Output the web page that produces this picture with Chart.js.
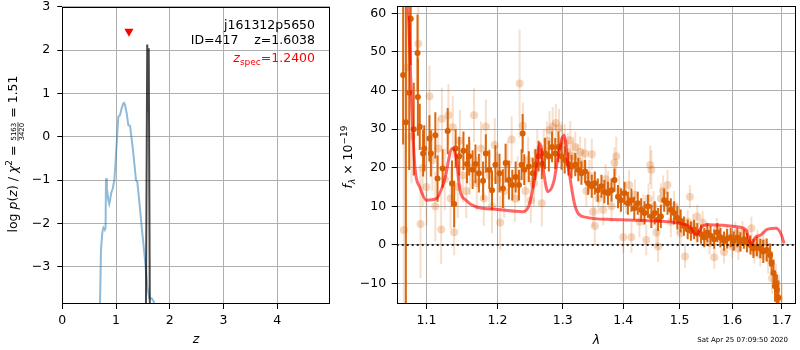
<!DOCTYPE html>
<html>
<head>
<meta charset="utf-8">
<script src="https://cdn.jsdelivr.net/npm/chart.js@4.4.0/dist/chart.umd.min.js"></script>
<style>
  body { margin: 0; background: #fff; }
  #wrap { position: relative; width: 800px; height: 350px; }
  canvas { position: absolute; left: 0; top: 0; }
</style>
</head>
<body>
<div id="wrap">
  <canvas id="pz" width="800" height="350"></canvas>
  <canvas id="spec" width="800" height="350"></canvas>
</div>
<script>
// ---- left panel: log p(z) ----
const pzXTicks = [0, 1, 2, 3, 4];
const pzYTicks = [-3, -2, -1, 0, 1, 2, 3];
const pzBlueZ = [0.700, 0.720, 0.745, 0.765, 0.790, 0.805, 0.813, 0.830, 0.855, 0.873, 0.890, 0.910, 0.937, 0.968, 0.985, 1.042, 1.074, 1.105, 1.135, 1.150, 1.167, 1.198, 1.228, 1.260, 1.290, 1.321, 1.371, 1.395, 1.437, 1.477, 1.539, 1.581, 1.619, 1.663, 1.700, 1.725];
const pzBlueLogP = [-3.95, -2.60, -2.20, -2.10, -2.15, -2.10, -0.96, -1.20, -1.45, -1.55, -1.45, -1.30, -1.20, -1.00, -0.70, 0.46, 0.50, 0.66, 0.77, 0.78, 0.73, 0.54, 0.27, 0.25, -0.05, -0.38, -1.00, -1.04, -1.55, -2.08, -2.85, -3.46, -3.73, -3.73, -3.80, -3.95];
const pzBlackZ = [1.556, 1.580, 1.598, 1.608, 1.628];
const pzBlackLogP = [-3.95, 2.13, 0.60, 2.04, -3.95];
const zSpec = [1.24];
const zSpecMark = [2.43];

// ---- right panel: spectrum ----
const specXTicks = [1.1, 1.2, 1.3, 1.4, 1.5, 1.6, 1.7];
const specYTicks = [-10, 0, 10, 20, 30, 40, 50, 60];

const darkWave = [1.069, 1.0726, 1.077, 1.079, 1.083, 1.088, 1.0885, 1.091, 1.0955, 1.097, 1.104, 1.106, 1.112, 1.115, 1.122, 1.129, 1.135, 1.138, 1.140, 1.145, 1.151, 1.156, 1.159, 1.164, 1.168, 1.173, 1.179, 1.183, 1.188, 1.192, 1.197, 1.203, 1.208, 1.212, 1.217, 1.222, 1.227, 1.232, 1.236, 1.2376, 1.240, 1.247, 1.253, 1.257, 1.262, 1.267, 1.272, 1.278, 1.283, 1.288, 1.293, 1.298, 1.303, 1.309, 1.314, 1.320, 1.325, 1.330, 1.336, 1.341, 1.347, 1.352, 1.357, 1.363, 1.368, 1.374, 1.380, 1.385, 1.391, 1.396, 1.402, 1.408, 1.414, 1.419, 1.425, 1.431, 1.437, 1.443, 1.449, 1.455, 1.461, 1.466, 1.472, 1.478, 1.484, 1.490, 1.496, 1.502, 1.508, 1.515, 1.521, 1.527, 1.533, 1.540, 1.546, 1.552, 1.558, 1.565, 1.571, 1.577, 1.584, 1.590, 1.597, 1.603, 1.610, 1.616, 1.623, 1.629, 1.636, 1.642, 1.649, 1.656, 1.662, 1.669, 1.676, 1.679, 1.683, 1.686, 1.690, 1.693];
const darkFlux = [44, 31.8, 39.4, 58.6, 30, 49.7, 38.3, 30.6, 23.7, 25, 27.6, 23.7, 28.4, 17.2, 19.8, 29.5, 15.9, 10.6, 25, 23, 24.4, 21, 23, 19.5, 21, 18.6, 16.6, 23.7, 19.5, 14.2, 20.8, 18.6, 14.6, 21.2, 16.8, 15.5, 17.6, 15.5, 20.8, 28.9, 19.5, 20.3, 18.6, 20.8, 23, 21, 23.7, 23, 25.4, 23.7, 25.4, 23, 22, 21, 20.3, 20.8, 19.5, 18.6, 19, 16, 15.2, 16, 14.2, 15.2, 13.8, 13.4, 14.2, 16.8, 12.5, 11.6, 13.4, 10.8, 11.6, 9.5, 10.8, 9.1, 8.3, 10, 7.4, 8.3, 6.6, 7.4, 11.6, 10.8, 9.1, 8.3, 7.0, 6.2, 4.9, 4.0, 3.6, 4.0, 3.2, 2.8, 1.9, 3.2, 2.4, 1.5, 3.2, 1.9, 1.0, 1.6, 1.9, 1.0, 1.9, 0.8, 1.5, 0.6, 0.0, -0.9, -0.4, -0.9, -1.7, -1.3, -2.6, -4.7, -7.3, -10.7, -11.6, -13.7];
const darkErr = [18, 70, 20, 12, 12, 10, 10, 6, 6, 6, 6, 6, 6, 6, 5, 6, 6, 6, 5, 5, 5, 5, 5, 5, 5, 5, 5, 5, 5, 5, 5, 5, 5, 5, 5, 4, 4, 4, 4, 5, 4, 4, 4, 4, 4, 4, 4, 4, 4, 4, 4, 3.5, 3.5, 3, 3, 3, 3, 3, 3, 3, 3, 3, 3, 3, 3, 3, 3, 3, 3, 3, 3, 3, 3, 3, 3, 3, 3, 3, 3, 3, 3, 3, 3, 3, 3, 3, 3, 3, 2.5, 2.5, 2.5, 2.5, 2.5, 2.5, 2.5, 2.5, 2.5, 2.5, 2.5, 2.5, 2.5, 2.5, 2.5, 2.5, 2.5, 2.5, 2.5, 2.5, 2.5, 2.5, 2.5, 2.5, 3, 3, 3, 3, 3.5, 4, 4, 4.5];

const lightWave = [1.070, 1.074, 1.080, 1.089, 1.092, 1.095, 1.100, 1.104, 1.108, 1.112, 1.116, 1.120, 1.121, 1.125, 1.130, 1.133, 1.136, 1.138, 1.143, 1.146, 1.150, 1.155, 1.160, 1.166, 1.170, 1.176, 1.180, 1.183, 1.188, 1.192, 1.196, 1.200, 1.204, 1.210, 1.215, 1.221, 1.226, 1.230, 1.233, 1.238, 1.242, 1.246, 1.250, 1.255, 1.260, 1.267, 1.270, 1.275, 1.279, 1.284, 1.289, 1.294, 1.298, 1.303, 1.308, 1.312, 1.316, 1.320, 1.324, 1.328, 1.332, 1.336, 1.338, 1.343, 1.347, 1.349, 1.352, 1.358, 1.366, 1.370, 1.374, 1.380, 1.385, 1.388, 1.393, 1.400, 1.405, 1.410, 1.414, 1.420, 1.428, 1.435, 1.440, 1.444, 1.447, 1.449, 1.453, 1.458, 1.461, 1.466, 1.470, 1.478, 1.484, 1.490, 1.496, 1.502, 1.510, 1.515, 1.519, 1.525, 1.533, 1.543, 1.550, 1.556, 1.565, 1.570, 1.577, 1.584, 1.590, 1.600, 1.606, 1.612, 1.620, 1.630, 1.638, 1.644, 1.650, 1.656, 1.662, 1.672, 1.680, 1.688, 1.694, 1.700];
const lightFlux = [3.9, 46, 28, 52.1, 5.4, 20, 15, 38.5, 22, 10, 25, 4.0, 32.7, 17, 33.6, 12, 30.5, 3.3, 15, 27, 18, 14, 20, 33.6, 16, 25, 12, 30.7, 18, 10, 25.9, 17, 5.8, 14, 21, 27.3, 12, 17, 41.8, 30.9, 14, 22, 11.6, 16, 24, 10.8, 25, 27, 29.7, 30.7, 31.6, 30.2, 27, 26.3, 24, 27.1, 23, 25.4, 22, 24.1, 21, 23.7, 14, 18, 23.5, 8.6, 4.9, 12, 9.1, 17, 15.2, 10, 21.3, 23, 14, 2.0, 12, 15.5, 2.0, 13, 6, 9.1, 1.3, 12, 20.7, 19.5, 10, 3.2, -0.4, 12, 14, 15.5, 6, 10, 6.8, 3, -3.0, 6, 12.5, 5, 7.4, 5.8, 2.8, 0.5, -3.2, 4, 2, -1.8, 2, -0.4, 3, -0.9, 3.2, 1, 4.3, -1.8, 1, -2.6, 0.6, -3.4, -8.6, -9.9, -13.8, -16];
const lightErr = [25, 15, 12, 12, 14, 10, 10, 8, 8, 9, 8, 9, 8, 8, 8, 8, 8, 6, 8, 8, 7, 7, 7, 7, 7, 7, 7, 7, 7, 7, 7, 7, 7, 7, 6, 6, 6, 6, 14, 6, 6, 6, 6, 6, 6, 6, 5, 5, 5, 5, 5, 5, 5, 5, 5, 5, 4, 4, 4, 4, 4, 4, 4, 4, 4, 4, 5, 4, 4, 4, 4, 4, 4, 5, 4, 4, 4, 4, 4, 4, 4, 4, 4, 4, 5, 5, 4, 4, 4, 4, 4, 4, 4, 4, 4, 3, 3, 3, 3, 3, 3, 3, 3, 3, 3, 3, 3, 3, 3, 3, 3, 3, 3, 3, 3, 3, 3, 3, 3, 4, 4, 5, 6, 6];

const modelWave = [1.0745, 1.0757, 1.080, 1.0845, 1.091, 1.100, 1.1134, 1.1246, 1.1352, 1.1406, 1.1461, 1.1545, 1.1685, 1.200, 1.2376, 1.2473, 1.2574, 1.2641, 1.2702, 1.2764, 1.2857, 1.2934, 1.302, 1.309, 1.320, 1.336, 1.380, 1.438, 1.500, 1.519, 1.531, 1.541, 1.553, 1.610, 1.627, 1.637, 1.647, 1.657, 1.671, 1.688, 1.698, 1.705];
const modelFlux = [70, 62, 37.5, 20.2, 15, 11.6, 12.0, 16.8, 25, 22.8, 14.2, 11.6, 9.9, 9.2, 8.6, 10.3, 18.5, 26.3, 18.5, 13.8, 16.4, 23.7, 28.4, 20.2, 9.9, 7.2, 6.6, 6.3, 5.6, 4.7, 2.6, 4.7, 5.2, 4.7, 3.9, 0.4, 2.1, 2.6, 4.1, 4.3, 3.0, 0.4];
const zeroWave = [1.0606, 1.730];
const zeroFlux = [0, 0];

const pts = (xs, ys) => xs.map((x, i) => ({ x: x, y: ys[i] }));
const minus = v => (v < 0 ? '\u2212' + Math.abs(v) : String(v));
const FONT = 'DejaVu Sans';

Chart.defaults.font.family = FONT;
Chart.defaults.color = '#000';
Chart.defaults.animation = false;

// draws a row of text pieces (with sub/superscripts, fractions) starting at x
function drawRich(ctx, parts, x, y, align) {
  let w = 0;
  parts.forEach(p => {
    ctx.font = p.font;
    p.w = p.frac ? Math.max(ctx.measureText(p.frac[0]).width, ctx.measureText(p.frac[1]).width) + 2
                 : ctx.measureText(p.t).width;
    w += p.w;
  });
  let cx = align === 'right' ? x - w : align === 'center' ? x - w / 2 : x;
  ctx.textBaseline = 'alphabetic';
  ctx.textAlign = 'left';
  parts.forEach(p => {
    ctx.font = p.font;
    ctx.fillStyle = p.color || '#000';
    if (p.frac) {
      const n = ctx.measureText(p.frac[0]).width, d = ctx.measureText(p.frac[1]).width;
      ctx.fillText(p.frac[0], cx + (p.w - n) / 2, y - 1);
      ctx.fillText(p.frac[1], cx + (p.w - d) / 2, y + 6.5);
      ctx.fillRect(cx + 0.5, y + 0.3, p.w - 1, 0.7);
    } else {
      ctx.fillText(p.t, cx, y + (p.dy || 0));
    }
    cx += p.w;
  });
}

function frame(chart) {
  const { ctx, chartArea: a } = chart;
  ctx.save();
  ctx.strokeStyle = '#000';
  ctx.lineWidth = 1;
  ctx.strokeRect(Math.round(a.left) + 0.5, Math.round(a.top) + 0.5,
                 Math.round(a.right - a.left) - 1, Math.round(a.bottom - a.top) - 1);
  ctx.restore();
}

const errorBars = {
  id: 'errorBars',
  beforeDatasetDraw(chart, args) {
    const ds = chart.data.datasets[args.index];
    if (!ds.yErr) return;
    const { ctx, chartArea: a, scales: { x, y } } = chart;
    ctx.save();
    ctx.beginPath();
    ctx.rect(a.left, a.top, a.right - a.left, a.bottom - a.top);
    ctx.clip();
    ctx.strokeStyle = ds.errColor;
    ctx.lineWidth = ds.errWidth;
    ds.data.forEach((p, i) => {
      const px = x.getPixelForValue(p.x);
      ctx.beginPath();
      ctx.moveTo(px, y.getPixelForValue(p.y - ds.yErr[i]));
      ctx.lineTo(px, y.getPixelForValue(p.y + ds.yErr[i]));
      ctx.stroke();
    });
    ctx.restore();
  }
};

function axis(ticksArr, min, max, type, labelFmt, pad, size) {
  return {
    type: type,
    min: min,
    max: max,
    afterBuildTicks: s => { s.ticks = ticksArr.map(v => ({ value: v })); },
    afterFit: s => {
      if (size.w) s.width = size.w;
      if (size.h) s.height = size.h;
      s.paddingTop = 0; s.paddingBottom = 0; s.paddingLeft = 0; s.paddingRight = 0;
    },
    border: { display: false },
    grid: { color: '#b0b0b0', lineWidth: 1, drawTicks: true, tickLength: 5, tickColor: '#000' },
    ticks: { font: { size: 12.5 }, color: '#000', padding: pad, autoSkip: false, maxRotation: 0, callback: labelFmt }
  };
}

// ---------- left chart ----------
const pzDeco = {
  id: 'pzDeco',
  afterDraw(chart) {
    const { ctx, chartArea: a } = chart;
    frame(chart);
    const big = '12.5px ' + FONT, bigI = 'italic 12.5px ' + FONT, small = '9px ' + FONT;
    const xr = a.right - 15;
    drawRich(ctx, [{ t: 'j161312p5650', font: big }], xr, 28.5, 'right');
    drawRich(ctx, [{ t: 'ID=417    z=1.6038', font: big }], xr, 43.5, 'right');
    drawRich(ctx, [
      { t: 'z', font: bigI, color: '#ff0000' },
      { t: 'spec', font: small, dy: 3, color: '#ff0000' },
      { t: '=1.2400', font: big, color: '#ff0000' }
    ], xr, 61.5, 'right');
    // x label
    drawRich(ctx, [{ t: 'z', font: bigI }], (a.left + a.right) / 2, 343, 'center');
    // y label
    ctx.save();
    ctx.translate(17.3, 154);
    ctx.rotate(-Math.PI / 2);
    drawRich(ctx, [
      { t: 'log ', font: big },
      { t: 'p', font: bigI },
      { t: '(', font: big },
      { t: 'z', font: bigI },
      { t: ') / ', font: big },
      { t: '\u03c7', font: bigI },
      { t: '2', font: small, dy: -5 },
      { t: ' = ', font: big },
      { frac: ['5163', '3420'], font: '7px ' + FONT },
      { t: ' = 1.51', font: big }
    ], 0, 0, 'center');
    ctx.restore();
  }
};

new Chart(document.getElementById('pz'), {
  type: 'scatter',
  data: {
    datasets: [
      { data: pts(zSpec, zSpecMark), pointStyle: 'triangle', rotation: 180, pointRadius: 5.3,
        backgroundColor: '#ff0000', borderColor: '#ff0000', borderWidth: 0, order: 1 },
      { data: pts(pzBlackZ, pzBlackLogP), showLine: true, borderColor: 'rgba(0,0,0,0.72)', borderWidth: 2,
        pointRadius: 0, order: 2 },
      { data: pts(pzBlueZ, pzBlueLogP), showLine: true, borderColor: 'rgba(31,119,180,0.5)', borderWidth: 2,
        pointRadius: 0, order: 3 }
    ]
  },
  options: {
    responsive: false,
    devicePixelRatio: 1,
    layout: { padding: { left: 0, right: 470, top: 6.7, bottom: 0 } },
    plugins: { legend: { display: false }, tooltip: { enabled: false } },
    scales: {
      x: axis(pzXTicks, 0, 4.98, 'linear', v => minus(v), 4, { h: 46 }),
      y: axis(pzYTicks, -3.86, 3, 'linear', v => minus(v), 7, { w: 62.3 })
    }
  },
  plugins: [pzDeco]
});

// ---------- right chart ----------
const specDeco = {
  id: 'specDeco',
  afterDraw(chart) {
    const { ctx, chartArea: a } = chart;
    frame(chart);
    const big = '12.5px ' + FONT, bigI = 'italic 12.5px ' + FONT, small = '9px ' + FONT, smallI = 'italic 9px ' + FONT;
    drawRich(ctx, [{ t: '\u03bb', font: bigI }], (a.left + a.right) / 2, 344, 'center');
    ctx.save();
    ctx.translate(352, 157);
    ctx.rotate(-Math.PI / 2);
    drawRich(ctx, [
      { t: 'f', font: bigI },
      { t: '\u03bb', font: smallI, dy: 3 },
      { t: ' \u00d7 10', font: big },
      { t: '\u221219', font: small, dy: -5 }
    ], 0, 0, 'center');
    ctx.restore();
    drawRich(ctx, [{ t: 'Sat Apr 25 07:09:50 2020', font: '7px ' + FONT }], 788, 342, 'right');
  }
};

new Chart(document.getElementById('spec'), {
  type: 'scatter',
  data: {
    datasets: [
      { data: pts(zeroWave, zeroFlux), showLine: true, borderColor: 'rgba(0,0,0,0.85)', borderWidth: 2,
        borderDash: [2, 3], pointRadius: 0, order: 1 },
      { data: pts(modelWave, modelFlux), showLine: true, borderColor: 'rgba(255,0,0,0.6)', borderWidth: 3,
        cubicInterpolationMode: 'monotone', pointRadius: 0, order: 2 },
      { data: pts(darkWave, darkFlux), yErr: darkErr, errColor: 'rgba(217,95,2,0.95)', errWidth: 2,
        pointRadius: 3, backgroundColor: 'rgb(217,95,2)', borderWidth: 0, order: 3 },
      { data: pts(lightWave, lightFlux), yErr: lightErr, errColor: 'rgba(217,95,2,0.2)', errWidth: 2,
        pointRadius: 4, backgroundColor: 'rgba(217,95,2,0.25)', borderWidth: 0, order: 4 }
    ]
  },
  options: {
    responsive: false,
    devicePixelRatio: 1,
    layout: { padding: { left: 346.7, right: 0.7, top: 6, bottom: 0 } },
    plugins: { legend: { display: false }, tooltip: { enabled: false } },
    scales: {
      x: axis(specXTicks, 1.0606, 1.730, 'logarithmic', v => Number(v).toFixed(1), 4, { h: 46 }),
      y: axis(specYTicks, -15.3, 61.9, 'linear', v => minus(v), 5.5, { w: 50 })
    }
  },
  plugins: [errorBars, specDeco]
});
</script>
</body>
</html>
